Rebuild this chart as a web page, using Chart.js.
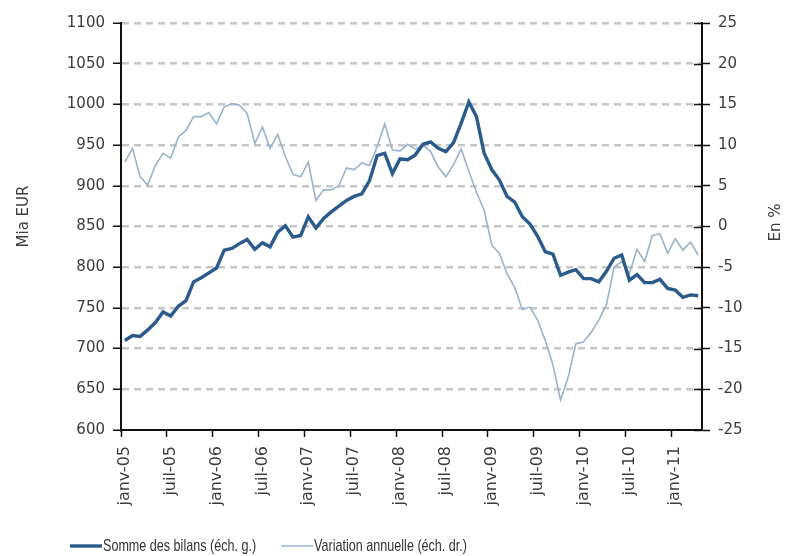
<!DOCTYPE html>
<html>
<head>
<meta charset="utf-8">
<script src="https://cdn.jsdelivr.net/npm/chart.js@4.4.0/dist/chart.umd.min.js"></script>
<style>
  html, body { margin: 0; padding: 0; background: #fff; }
  #wrap { width: 786px; height: 556px; }
</style>
</head>
<body>
<div id="wrap"><canvas id="bilanChart" width="786" height="556"></canvas></div>
<script>
// months janv-05 .. avr-11
const monthNames = ['janv', 'févr', 'mars', 'avr', 'mai', 'juin', 'juil', 'août', 'sept', 'oct', 'nov', 'déc'];
const years = ['05', '06', '07', '08', '09', '10', '11'];
const monthCount = 76;

const categories = [];
for (let i = 0; i < monthCount; i++) {
    categories.push(monthNames[i % 12] + '-' + years[Math.floor(i / 12)]);
}

// Somme des bilans, Mia EUR (left scale)
const sommeBilans = [
    710, 716, 715, 723, 732, 745, 740, 752, 759, 782, 787, 793,
    799, 821, 823, 829, 834, 822, 830, 825, 843, 851, 837, 839,
    862, 848, 860, 868, 875, 882, 887, 890, 906, 937, 940, 915,
    933, 932, 938, 951, 954, 946, 942, 953, 977, 1003, 985, 940,
    920, 907, 887, 880, 862, 853, 838, 819, 816, 790, 794, 797,
    786, 786, 782, 795, 811, 815, 784, 791, 781, 781, 785, 774,
    772, 763, 766, 765
];

// Variation annuelle, en % (right scale)
const variationAnnuelle = [
    7.9, 9.6, 6.1, 5.1, 7.5, 9.0, 8.4, 11.0, 11.8, 13.5, 13.5, 14.0,
    12.6, 14.7, 15.1, 14.9, 13.9, 10.2, 12.2, 9.6, 11.3, 8.6, 6.4, 6.1,
    7.9, 3.2, 4.5, 4.5, 5.0, 7.2, 7.0, 7.8, 7.5, 9.8, 12.6, 9.4,
    9.3, 10.1, 9.5, 10.0, 9.2, 7.3, 6.1, 7.6, 9.5, 6.8, 4.2, 2.0,
    -2.3, -3.3, -5.8, -7.5, -10.2, -9.9, -11.5, -14.0, -17.0, -21.3, -18.5, -14.4,
    -14.2, -13.0, -11.5, -9.6, -5.0, -4.3, -5.8, -2.8, -4.3, -1.1, -0.9, -3.3,
    -1.5, -2.9, -1.9, -3.5
];

const leftTitle = 'Mia EUR';
const rightTitle = 'En %';

const darkBlue = '#2b5a8c';
const lightBlue = '#9ab2cb';
const textColor = '#3c3c3c';
const yTickFont = { family: 'DejaVu Sans', size: 15 };
const xTickFont = { family: 'DejaVu Sans', size: 16 };

// titles, inner right ticks and the legend
const decorPlugin = {
    id: 'decor',
    afterDraw(chart) {
        const ctx = chart.ctx;
        const area = chart.chartArea;
        const y1 = chart.scales.y1;
        ctx.save();

        ctx.strokeStyle = '#111';
        ctx.lineWidth = 1.5;
        y1.ticks.forEach((t, i) => {
            const y = Math.round(y1.getPixelForTick(i)) + 0.5;
            ctx.beginPath();
            ctx.moveTo(area.right - 8, y);
            ctx.lineTo(area.right, y);
            ctx.stroke();
        });

        ctx.fillStyle = textColor;
        ctx.font = '15px "DejaVu Sans"';
        ctx.textAlign = 'center';
        ctx.textBaseline = 'middle';
        ctx.save();
        ctx.translate(24, (area.top + area.bottom) / 2 - 10);
        ctx.rotate(-Math.PI / 2);
        ctx.fillText(leftTitle, 0, 0);
        ctx.restore();
        ctx.save();
        ctx.translate(776, (area.top + area.bottom) / 2 - 4);
        ctx.rotate(-Math.PI / 2);
        ctx.fillText(rightTitle, 0, 0);
        ctx.restore();

        // legend, font squeezed horizontally to look narrow
        const squeeze = 0.74;
        ctx.font = '17px "Liberation Sans", sans-serif';
        ctx.textAlign = 'left';
        let x = 70;
        const y = 546;
        chart.data.datasets.forEach(ds => {
            ctx.strokeStyle = ds.borderColor;
            ctx.lineWidth = ds.borderWidth;
            ctx.beginPath();
            ctx.moveTo(x, y);
            ctx.lineTo(x + 32, y);
            ctx.stroke();
            ctx.save();
            ctx.translate(x + 33, y);
            ctx.scale(squeeze, 1);
            ctx.fillStyle = '#333';
            ctx.fillText(ds.label, 0, 0);
            ctx.restore();
            x += 33 + ctx.measureText(ds.label).width * squeeze + 25;
        });
        ctx.restore();
    }
};

const ctx = document.getElementById('bilanChart').getContext('2d');
new Chart(ctx, {
    type: 'line',
    data: {
        labels: categories,
        datasets: [{
            label: 'Somme des bilans (éch. g.)',
            data: sommeBilans,
            yAxisID: 'y',
            borderColor: darkBlue,
            borderWidth: 3.4,
            pointRadius: 0,
            tension: 0
        },
        {
            label: 'Variation annuelle (éch. dr.)',
            data: variationAnnuelle,
            yAxisID: 'y1',
            borderColor: lightBlue,
            borderWidth: 1.6,
            pointRadius: 0,
            tension: 0
        }]
    },
    options: {
        responsive: false,
        animation: false,
        devicePixelRatio: 1,
        layout: { padding: { top: 23, right: 0, bottom: 0, left: 0 } },
        plugins: {
            legend: { display: false },
            tooltip: { enabled: false }
        },
        scales: {
            x: {
                offset: true,
                grid: {
                    display: true,
                    drawOnChartArea: false,
                    offset: true,
                    tickLength: 7,
                    tickWidth: 1.5,
                    tickColor: c => (c.index % 6 === 0 ? '#111' : 'rgba(0,0,0,0)')
                },
                border: { color: '#111', width: 2 },
                ticks: {
                    autoSkip: false,
                    maxRotation: 90,
                    minRotation: 90,
                    padding: 9,
                    color: textColor,
                    font: xTickFont,
                    callback: (v, i) => (i % 6 === 0 ? categories[i] : '')
                },
                afterFit: s => { s.height = 126; }
            },
            y: {
                position: 'left',
                min: 600,
                max: 1100,
                ticks: { stepSize: 50, padding: 8, color: textColor, font: yTickFont, callback: v => String(v) },
                grid: {
                    color: c => (c.tick && c.tick.value === 600 ? 'rgba(0,0,0,0)' : '#c6c6c6'),
                    lineWidth: 2.5,
                    tickColor: '#111',
                    tickLength: 8,
                    tickWidth: 1.5
                },
                border: { color: '#111', width: 2, dash: [7, 5] },
                afterFit: s => { s.width = 121; }
            },
            y1: {
                position: 'right',
                min: -25,
                max: 25,
                ticks: { stepSize: 5, padding: 8, color: textColor, font: yTickFont, callback: v => String(v) },
                grid: { drawOnChartArea: false, tickColor: '#111', tickLength: 8, tickWidth: 1.5 },
                border: { color: '#111', width: 2 },
                afterFit: s => { s.width = 84; }
            }
        }
    },
    plugins: [decorPlugin]
});
</script>
</body>
</html>
